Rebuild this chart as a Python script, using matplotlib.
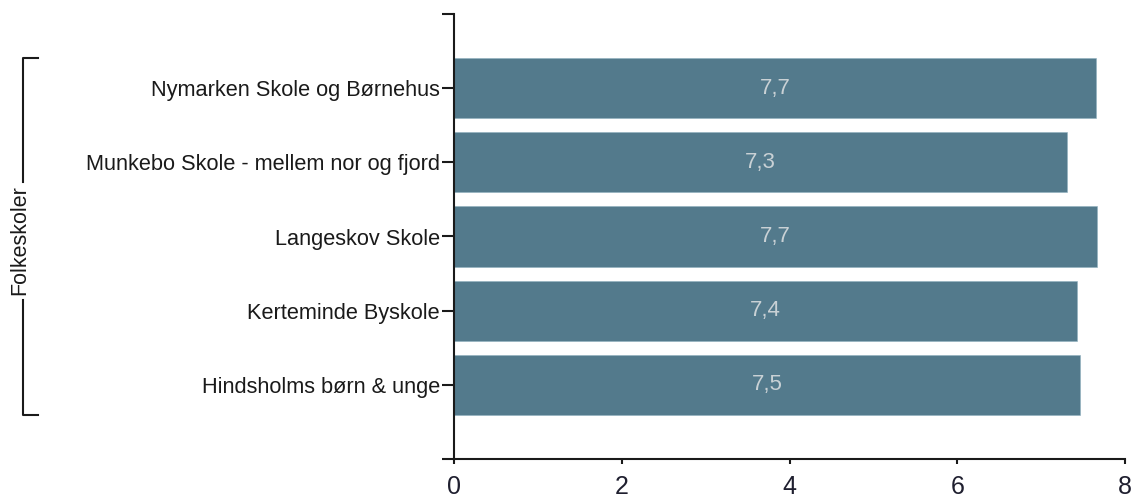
import matplotlib
matplotlib.use("Agg")
import matplotlib.pyplot as plt
from matplotlib import font_manager
from matplotlib.transforms import blended_transform_factory
from matplotlib.lines import Line2D

categories = [
    "Nymarken Skole og Børnehus",
    "Munkebo Skole - mellem nor og fjord",
    "Langeskov Skole",
    "Kerteminde Byskole",
    "Hindsholms børn & unge",
]
values = [7.65, 7.31, 7.67, 7.43, 7.46]
value_labels = ["7,7", "7,3", "7,7", "7,4", "7,5"]
group_label = "Folkeskoler"
x_ticks = [0, 2, 4, 6, 8]

names = {f.name for f in font_manager.fontManager.ttflist}
base_font = "Liberation Sans" if "Liberation Sans" in names else "DejaVu Sans"
narrow_font = "Liberation Sans Narrow" if "Liberation Sans Narrow" in names else base_font
plt.rcParams["font.family"] = [base_font, "DejaVu Sans"]

W, H = 1134, 498
fig = plt.figure(figsize=(W / 100, H / 100), dpi=100)
ax = fig.add_axes([454 / W, 1 - 459 / H, (1125 - 454) / W, (459 - 14) / H])

bar_color = "#537a8c"
ink = "#1a1a1a"
ypos = list(range(len(categories)))
ax.barh(ypos, values, height=0.81, color=bar_color, edgecolor="#8fb0bf", linewidth=0.4)
for y, v, lab in zip(ypos, values, value_labels):
    ax.text(v / 2, y, lab, ha="center", va="center", color="#c9d1d5", fontsize=16)

ax.set_xlim(0, 8)
ax.set_ylim(5, -1)
ax.set_xticks(x_ticks)
ax.set_xticklabels([str(t) for t in x_ticks], fontsize=18, family=[narrow_font, "DejaVu Sans"], color="#1f1f2f")
ax.set_yticks([-1] + ypos + [5])
ax.set_yticklabels([""] + categories + [""], fontsize=15.7, color=ink)

for s in ["top", "right"]:
    ax.spines[s].set_visible(False)
for s in ["left", "bottom"]:
    ax.spines[s].set_linewidth(1.5)
    ax.spines[s].set_color(ink)
ax.tick_params(axis="y", length=9, width=1.5, color=ink, pad=1)
ax.tick_params(axis="x", length=3.6, width=1.5, color=ink, pad=8)

# group bracket
tr = blended_transform_factory(fig.transFigure, ax.transData)
x0 = 22.5 / W
x1 = 38 / W
top, bot = -0.405, 4.405
gap_top, gap_bot = 1.27, 2.86
for seg in ([x1, x0, x0], [top, top, gap_top]), ([x0, x0, x1], [gap_bot, bot, bot]):
    fig.add_artist(Line2D(seg[0], seg[1], transform=tr, color=ink, linewidth=1.5))
fig.text(20 / W, 2.05, group_label, transform=tr, rotation=90, ha="center", va="center",
         fontsize=15.5, color=ink)

fig.savefig("out.png", dpi=100)
